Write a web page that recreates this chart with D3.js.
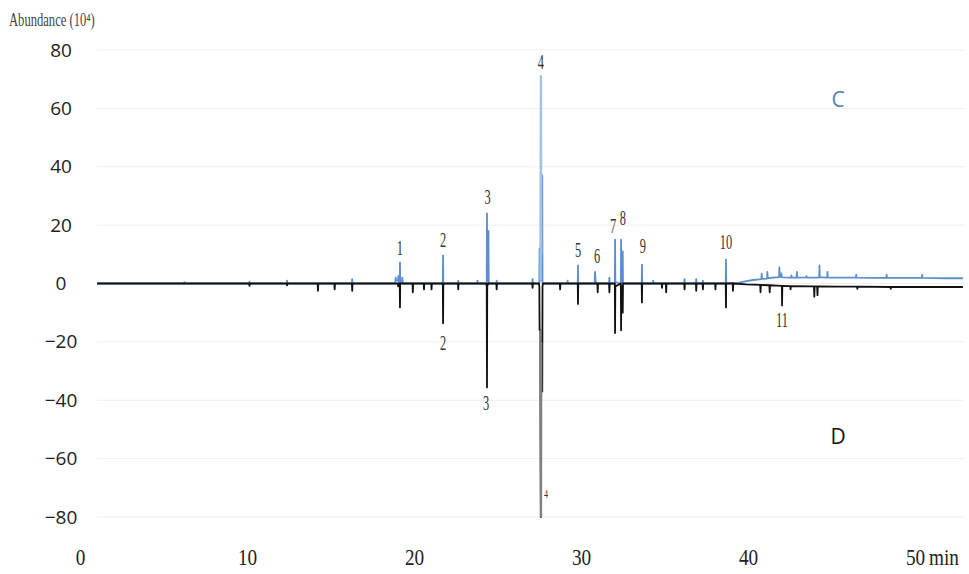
<!DOCTYPE html>
<html>
<head>
<meta charset="utf-8">
<script src="https://cdn.jsdelivr.net/npm/d3@7"></script>
<style>
  body { margin: 0; background: #fff; }
  svg { display: block; }
</style>
</head>
<body>
<script>
// chromatogram traces, [time (min), abundance (10^4)]
var traceC = [
  [1.02,0],[6.23,0],[6.25,0.5],[6.27,0],[10.13,0],[10.15,0.6],[10.17,0],[12.38,0],[12.4,1],[12.42,0],
  [16.28,0],[16.3,1.5],[16.32,0],
  [18.88,0],[18.9,2],[18.94,1],[19.04,1],[19.06,2.5],[19.1,0.5],[19.145,0.5],[19.16,7.2],[19.175,0.5],[19.28,0.5],[19.3,2],[19.33,0],
  [21.725,0],[21.74,9.6],[21.755,0],
  [22.63,0],[22.65,1],[22.67,0],[23.78,0],[23.8,1],[23.82,0],
  [24.355,0],[24.37,24],[24.385,1],[24.445,1],[24.46,18],[24.475,0],
  [24.93,0],[24.95,1],[24.97,0],
  [27.08,0],[27.1,1.5],[27.12,0],
  [27.505,0],[27.52,12],[27.535,1],[27.585,1],[27.6,71],[27.615,10],[27.665,10],[27.68,37],[27.695,0],
  [29.18,0],[29.2,1],[29.22,0],
  [29.805,0],[29.82,6.2],[29.835,0],
  [30.82,0],[30.84,4],[30.88,0.5],[30.92,0],
  [31.68,0],[31.7,2],[31.72,0],
  [32.025,0],[32.04,15],[32.055,0.5],[32.385,0],[32.4,15],[32.415,0.5],[32.485,0.5],[32.5,11],[32.515,0],
  [33.635,0],[33.65,6.5],[33.665,0],
  [34.3,0],[34.32,1],[34.34,0],
  [36.18,0],[36.2,1.5],[36.22,0],[36.88,0],[36.9,1.5],[36.92,0],[37.28,0],[37.3,1],[37.32,0],
  [38.665,0],[38.68,8.2],[38.695,0],
  [39.4,0.2],[39.9,0.8],[40.3,1.2],[40.8,1.5],[40.82,3.4],[40.84,1.6],[41.14,1.7],[41.16,4],[41.18,1.8],
  [41.5,2],[41.86,2.2],[41.88,5.5],[41.9,2.3],[41.98,2.3],[42.0,3.5],[42.02,2.1],[42.58,2],[42.6,2.8],[42.62,2],
  [42.91,2],[42.93,4],[42.95,2],[43.48,2.1],[43.5,2.5],[43.52,2],[44.26,2],[44.28,6.2],[44.3,2.2],
  [44.74,2],[44.76,4],[44.78,2],[45.5,2],[46.46,2],[46.48,3],[46.5,2],[47.3,1.9],[48.28,1.9],[48.3,3],
  [48.32,1.9],[49.5,1.9],[50.41,1.9],[50.43,3],[50.45,1.9],[51.8,1.8],[52.87,1.8]
];

var traceD = [
  [1.02,0],[10.13,0],[10.15,-0.8],[10.17,0],[12.38,0],[12.4,-0.6],[12.42,0],
  [14.23,0],[14.25,-2.5],[14.27,0],[15.23,0],[15.25,-2],[15.27,0],[16.28,0],[16.3,-2.5],[16.32,0],
  [19.03,0],[19.05,-1],[19.07,0],[19.145,0],[19.16,-8.2],[19.175,0],
  [19.91,0],[19.93,-3],[19.95,0],[20.58,0],[20.6,-2],[20.62,0],[21.03,0],[21.05,-2],[21.07,0],
  [21.725,0],[21.74,-13.6],[21.755,-0.5],[21.8,0],
  [22.63,0],[22.65,-2],[22.67,0],
  [24.32,0],[24.355,-1],[24.37,-35.6],[24.385,-1],[24.43,0],
  [24.93,0],[24.95,-2],[24.97,0],
  [27.08,0],[27.1,-1.5],[27.12,0],
  [27.48,0],[27.505,-1],[27.52,-16],[27.56,-16],[27.6,-80],[27.615,-20],[27.665,-20],[27.68,-37],[27.695,-1],[27.73,0],
  [28.73,0],[28.75,-2],[28.77,0],
  [29.805,0],[29.82,-7],[29.835,0],
  [30.98,0],[31.0,-3],[31.02,0],
  [31.68,0],[31.7,-3],[31.72,0],
  [32.025,0],[32.04,-17],[32.055,-1],[32.385,0],[32.4,-16],[32.415,-1],[32.485,-1],[32.5,-10],[32.515,0],
  [33.635,0],[33.65,-6.5],[33.665,0],
  [34.83,0],[34.85,-1.5],[34.87,0],[35.08,0],[35.1,-3],[35.12,0],
  [36.18,0],[36.2,-2],[36.22,0],[36.88,0],[36.9,-2.5],[36.92,0],[37.28,0],[37.3,-2],[37.32,0],[38.03,0],[38.05,-2],[38.07,0],
  [38.665,0],[38.68,-8.2],[38.695,0],
  [39.08,0],[39.1,-2.5],[39.12,0],
  [39.9,-0.3],[40.73,-0.5],[40.75,-3],[40.77,-0.5],[41.28,-0.6],[41.3,-3],[41.32,-0.6],[41.7,-0.7],
  [42.025,-0.8],[42.04,-7.5],[42.055,-0.8],[42.53,-0.9],[42.55,-2],[42.57,-0.9],[43.95,-1],[43.97,-4.5],[43.99,-1],
  [44.14,-1],[44.16,-4],[44.18,-1],[45.5,-1.1],[46.53,-1.1],[46.55,-1.8],[46.57,-1.1],[48.53,-1.2],[48.55,-1.8],
  [48.57,-1.2],[50.5,-1.2],[52.87,-1.2]
];

// peak numbers: [label, time, anchor value]
var peaksC = [
  ["1",19.16,12.2],["2",21.74,14.9],["3",24.40,29.6],["4",27.60,75.9],["5",29.82,11.5],
  ["6",30.96,9.4],["7",31.92,19.7],["8",32.51,22.4],["9",33.71,12.8],["10",38.68,14.2]
];
var peaksD = [["2",21.74,-20.4],["3",24.31,-40.9],["11",42.04,-12.5]];
var peaksDsmall = [["4",27.90,-71.8]];

var xTicks = [0,10,20,30,40,50];
var yTicks = [-80,-60,-40,-20,0,20,40,60,80];
var bigPeak = [27.55, 27.63]; // main peak drawn in lighter tone

var W = 969, H = 574;
var x = d3.scaleLinear().domain([0,50]).range([80,915]);
var y = d3.scaleLinear().domain([-80,80]).range([517,50]);

var svg = d3.select("body").append("svg").attr("width", W).attr("height", H);

// grid
svg.append("g").selectAll("line").data(yTicks).enter().append("line")
  .attr("x1", x(1.02)).attr("x2", 965)
  .attr("y1", function(d){ return y(d); }).attr("y2", function(d){ return y(d); })
  .attr("stroke", "#eeeeee").attr("stroke-width", 1);

// y axis labels
var ya = svg.append("g").attr("transform", "translate(61,0)")
  .call(d3.axisLeft(y).tickValues(yTicks).tickSize(0).tickPadding(0));
ya.select(".domain").remove();
ya.selectAll("text").attr("text-anchor", "middle")
  .attr("font-family", "Open Sans, sans-serif").attr("font-size", 19).attr("fill", "#222");

// x axis labels (condensed serif)
var xa = svg.append("g").attr("transform", "translate(0,565)")
  .call(d3.axisBottom(x).tickValues(xTicks).tickSize(0).tickPadding(0));
xa.select(".domain").remove();
xa.selectAll("text").attr("dy", 0).attr("y", 0)
  .attr("font-family", "Liberation Serif, serif").attr("font-size", 24).attr("fill", "#222")
  .attr("transform", "scale(0.8,1)");
svg.append("text").attr("transform", "translate(" + (x(50) + 14) + ",565) scale(0.8,1)")
  .attr("font-family", "Liberation Serif, serif").attr("font-size", 24).attr("fill", "#222")
  .text("min");

// y title
svg.append("text").attr("transform", "translate(9,26) scale(0.7,1)")
  .attr("font-family", "Liberation Serif, serif").attr("font-size", 18).attr("fill", "#444")
  .text("Abundance (10⁴)");

var line = d3.line().x(function(d){ return x(d[0]); }).y(function(d){ return y(d[1]); });
var inPeak = function(d){ return d[0] >= bigPeak[0] && d[0] <= bigPeak[1]; };

svg.append("path").datum(traceC).attr("d", line)
  .attr("fill", "none").attr("stroke", "#5b8fd2").attr("stroke-width", 1.8).attr("stroke-linejoin", "round");
svg.append("path").datum(traceC.filter(inPeak)).attr("d", line)
  .attr("fill", "none").attr("stroke", "#a3c2e6").attr("stroke-width", 2.4);

svg.append("path").datum(traceD).attr("d", line)
  .attr("fill", "none").attr("stroke", "#111").attr("stroke-width", 1.8).attr("stroke-linejoin", "round");
svg.append("path").datum(traceD.filter(inPeak)).attr("d", line)
  .attr("fill", "none").attr("stroke", "#808080").attr("stroke-width", 2.4);

// peak numbers
var peakLabel = function(data, size) {
  svg.append("g").selectAll("text").data(data).enter().append("text")
    .attr("transform", function(d){ return "translate(" + x(d[1]) + "," + y(d[2]) + ") scale(0.62,1)"; })
    .attr("text-anchor", "middle").attr("dy", "0.35em")
    .attr("font-family", "Liberation Serif, serif").attr("font-size", size).attr("fill", "#333")
    .text(function(d){ return d[0]; });
};
peakLabel(peaksC, 20);
peakLabel(peaksD, 20);
peakLabel(peaksDsmall, 13);

// sample tags
svg.append("text").attr("x", 838).attr("y", 100).attr("dy", "0.35em").attr("text-anchor", "middle")
  .attr("font-family", "Open Sans, sans-serif").attr("font-size", 21).attr("fill", "#4f81bd").text("C");
svg.append("text").attr("x", 838).attr("y", 437).attr("dy", "0.35em").attr("text-anchor", "middle")
  .attr("font-family", "Open Sans, sans-serif").attr("font-size", 21).attr("fill", "#111").text("D");
</script>
</body>
</html>
